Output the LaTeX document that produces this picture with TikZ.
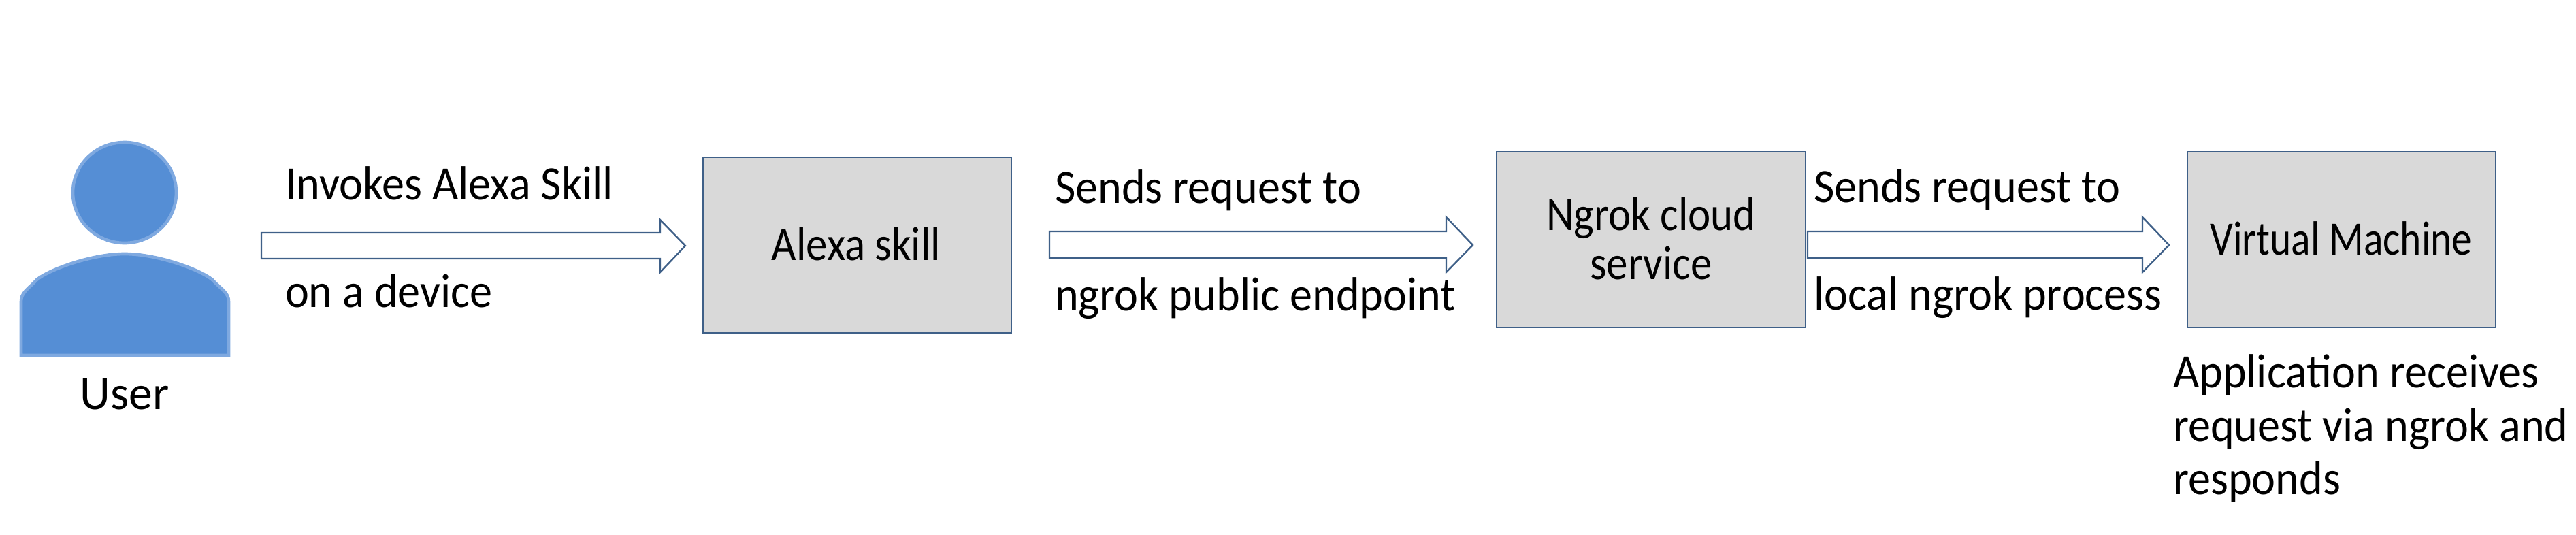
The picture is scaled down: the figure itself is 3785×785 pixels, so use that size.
\documentclass[tikz,border=0pt]{standalone}
\usepackage{fontspec}
\setmainfont{Carlito}
\newfontfamily\lblfont[FakeStretch=0.94]{Carlito}
\newfontfamily\boxfont[FakeStretch=0.895]{Carlito}
\newfontfamily\vmfont[FakeStretch=0.845]{Carlito}
\newfontfamily\userfont[FakeStretch=0.99]{Carlito}
\begin{document}
\begin{tikzpicture}[x=0.0264583cm,y=-0.0264583cm,
  lbl/.style={inner sep=0pt,outer sep=0pt,anchor=base west,font=\lblfont\fontsize{53}{60}\selectfont},
  clbl/.style={inner sep=0pt,outer sep=0pt,anchor=base,font=\boxfont\fontsize{53}{60}\selectfont},
  procbox/.style={draw=boxedge,fill=boxfill,line width=1.8pt},
  flowarrow/.style={draw=boxedge,fill=white,line width=1.8pt,line join=miter},
  person/.style={draw=personedge,fill=personfill,line width=3.5pt}]
\definecolor{boxedge}{HTML}{3F6088}
\definecolor{boxfill}{HTML}{D9D9D9}
\definecolor{personfill}{HTML}{558ED5}
\definecolor{personedge}{HTML}{7FA9E0}
\useasboundingbox (0,0) rectangle (3785,785);
% user
\path[person] (183,283) ellipse [x radius=76,y radius=74];
\path[person] (31,522) -- (31,443) .. controls (31,430) and (40,426) .. (54,411) .. controls (72,396) and (135,373) .. (183,373)
  .. controls (231,373) and (294,396) .. (312,411) .. controls (326,426) and (336,430) .. (336,443) -- (336,522) -- cycle;
\node[clbl,font=\userfont\fontsize{53}{60}\selectfont] (user) at (183,601) {User};
% boxes
\path[procbox] (1033,231) rectangle (1486,489);
\node[clbl] (alexa) at (1258,382) {Alexa skill};
\path[procbox] (2199,223) rectangle (2653,481);
\node[clbl] (ngrok1) at (2426,338) {Ngrok cloud};
\node[clbl] (ngrok2) at (2426,410) {service};
\path[procbox] (3214,223) rectangle (3667,481);
\node[clbl,font=\vmfont\fontsize{53}{60}\selectfont] (vm) at (3440,374) {Virtual Machine};
% arrows
\path[flowarrow] (384,342) -- (970,342) -- (970,323) -- (1007,361) -- (970,400) -- (970,380) -- (384,380) -- cycle;
\path[flowarrow] (1542,340) -- (2125,340) -- (2125,319) -- (2164,360) -- (2125,400) -- (2125,379) -- (1542,379) -- cycle;
\path[flowarrow] (2656,340) -- (3148,340) -- (3148,319) -- (3187,360) -- (3148,400) -- (3148,379) -- (2656,379) -- cycle;
% labels
\node[lbl] (a) at (419,293) {Invokes Alexa Skill};
\node[lbl] (b) at (419,451) {on a device};
\node[lbl] (c) at (1550,298) {Sends request to};
\node[lbl] (d) at (1550,456) {ngrok public endpoint};
\node[lbl] (e) at (2665,297) {Sends request to};
\node[lbl] (f) at (2665,455) {local ngrok process};
\node[lbl] (g) at (3193,569) {Application receives};
\node[lbl] (h) at (3193,648) {request via ngrok and};
\node[lbl] (i) at (3193,726) {responds};
\end{tikzpicture}
\end{document}
